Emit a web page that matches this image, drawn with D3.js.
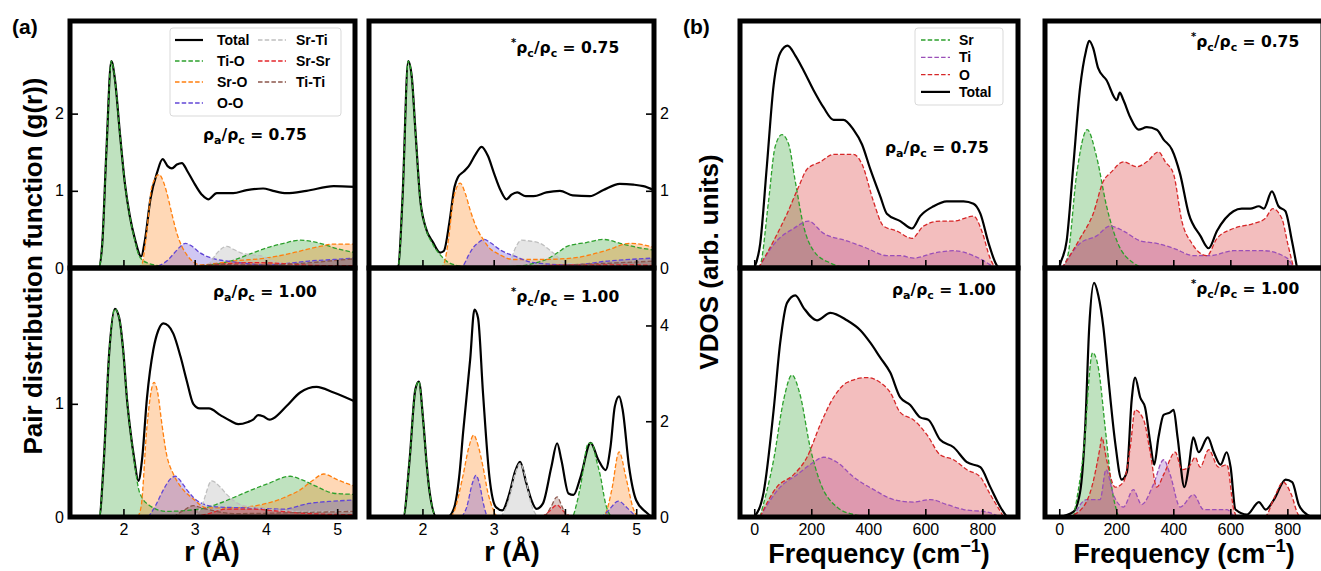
<!DOCTYPE html>
<html>
<head>
<meta charset="utf-8">
<script src="https://cdn.jsdelivr.net/npm/d3@7"></script>
<style>
  body { margin: 0; background: #fff; }
  svg { display: block; }
</style>
</head>
<body>
<svg id="fig" width="1321" height="571"></svg>
<script>
// ---------- (a) pair distribution functions, r in Å ----------
// rho_a/rho_c = 0.75
const a75_total = [[1.6,0],[1.65,0],[1.7,0.28],[1.76,1.5],[1.83,2.68],[1.88,2.45],[1.95,1.75],[2.02,1.1],[2.09,0.67],[2.16,0.38],[2.25,0.15],[2.3,0.35],[2.38,0.9],[2.47,1.23],[2.55,1.41],[2.62,1.32],[2.68,1.29],[2.75,1.34],[2.82,1.36],[2.9,1.25],[2.98,1.12],[3.1,0.95],[3.19,0.89],[3.31,0.97],[3.54,0.97],[3.73,1.01],[3.96,1.03],[4.1,1.0],[4.29,0.97],[4.57,1.0],[4.95,1.06],[5.25,1.05]];
const a75_tiO = [[1.6,0],[1.65,0],[1.7,0.28],[1.76,1.5],[1.83,2.68],[1.88,2.45],[1.95,1.75],[2.02,1.1],[2.09,0.67],[2.16,0.36],[2.23,0.14],[2.35,0.06],[2.5,0.03],[2.7,0.01],[3.0,0.02],[3.3,0.05],[3.54,0.1],[3.8,0.19],[4.01,0.26],[4.25,0.32],[4.48,0.36],[4.76,0.32],[5.0,0.25],[5.25,0.2]];
const a75_srO = [[2.2,0],[2.26,0.05],[2.33,0.5],[2.4,1.06],[2.5,1.21],[2.56,1.12],[2.61,0.97],[2.68,0.7],[2.75,0.45],[2.82,0.28],[2.89,0.17],[2.98,0.08],[3.07,0.04],[3.3,0.06],[3.54,0.09],[4.01,0.13],[4.3,0.18],[4.48,0.22],[4.76,0.28],[4.95,0.31],[5.25,0.31]];
const a75_oO = [[2.4,0],[2.5,0.03],[2.62,0.1],[2.72,0.2],[2.8,0.28],[2.87,0.32],[2.95,0.29],[3.07,0.2],[3.2,0.14],[3.31,0.11],[3.54,0.08],[3.8,0.05],[4.01,0.04],[4.3,0.06],[4.6,0.09],[4.95,0.11],[5.25,0.13]];
const a75_srTi = [[3.1,0],[3.2,0.05],[3.3,0.18],[3.45,0.28],[3.55,0.24],[3.64,0.2],[3.8,0.17],[3.92,0.16],[4.1,0.09],[4.3,0.05],[4.48,0.03],[5.25,0.02]];
const a75_srSr = [[3.0,0],[3.2,0.03],[3.5,0.06],[3.8,0.07],[4.2,0.06],[4.5,0.04],[5.0,0.03],[5.25,0.03]];
const a75_tiTi = [[2.8,0],[3.0,0.02],[3.3,0.05],[3.6,0.04],[4.0,0.04],[4.5,0.06],[5.0,0.1],[5.25,0.12]];

// *rho_c/rho_c = 0.75
const c75_total = [[1.6,0],[1.66,0.02],[1.72,0.9],[1.8,2.68],[1.85,2.48],[1.9,1.8],[1.97,0.88],[2.04,0.54],[2.15,0.33],[2.25,0.2],[2.3,0.22],[2.38,0.6],[2.45,1.05],[2.5,1.18],[2.58,1.25],[2.65,1.32],[2.75,1.48],[2.83,1.57],[2.92,1.45],[3.0,1.24],[3.1,1.0],[3.18,0.89],[3.25,0.95],[3.33,0.98],[3.45,0.93],[3.56,0.93],[3.74,0.98],[3.93,1.0],[4.11,0.94],[4.35,0.93],[4.54,1.01],[4.77,1.09],[4.96,1.08],[5.1,1.06],[5.27,1.0]];
const c75_tiO = [[1.6,0],[1.66,0.02],[1.72,0.9],[1.8,2.68],[1.85,2.48],[1.9,1.8],[1.97,0.88],[2.04,0.54],[2.15,0.3],[2.25,0.17],[2.39,0.06],[2.6,0.02],[3.0,0.01],[3.4,0.03],[3.6,0.07],[3.74,0.11],[3.9,0.2],[4.03,0.28],[4.3,0.33],[4.54,0.37],[4.81,0.31],[5.0,0.27],[5.27,0.23]];
const c75_srO = [[2.25,0],[2.3,0.05],[2.37,0.4],[2.43,0.87],[2.53,1.1],[2.6,0.97],[2.67,0.75],[2.76,0.52],[2.86,0.36],[2.95,0.25],[3.05,0.19],[3.28,0.11],[3.65,0.11],[4.12,0.13],[4.35,0.17],[4.59,0.23],[4.91,0.32],[5.05,0.31],[5.27,0.26]];
const c75_oO = [[2.5,0],[2.57,0.03],[2.65,0.17],[2.71,0.26],[2.8,0.34],[2.87,0.37],[2.95,0.33],[3.1,0.23],[3.33,0.14],[3.5,0.08],[3.65,0.06],[4.1,0.04],[4.6,0.09],[5.27,0.13]];
const c75_srTi = [[3.15,0],[3.22,0.05],[3.3,0.25],[3.39,0.36],[3.5,0.35],[3.65,0.32],[3.75,0.26],[3.84,0.19],[3.95,0.1],[4.05,0.06],[4.5,0.03],[5.27,0.03]];
const c75_srSr = [[3.5,0],[3.7,0.03],[4.0,0.04],[4.5,0.04],[5.0,0.04],[5.27,0.03]];
const c75_tiTi = [[3.0,0],[3.3,0.02],[3.8,0.03],[4.3,0.05],[4.8,0.07],[5.27,0.09]];

// rho_a/rho_c = 1.00
const a100_total = [[1.6,0],[1.66,0],[1.72,0.45],[1.8,1.45],[1.88,1.84],[1.94,1.76],[2.0,1.45],[2.05,1.04],[2.1,0.75],[2.15,0.52],[2.21,0.32],[2.26,0.5],[2.33,1.05],[2.42,1.48],[2.49,1.65],[2.56,1.71],[2.63,1.69],[2.7,1.62],[2.8,1.42],[2.89,1.2],[2.98,1.0],[3.07,0.96],[3.2,0.96],[3.36,0.9],[3.5,0.85],[3.61,0.82],[3.75,0.84],[3.82,0.86],[3.89,0.9],[3.96,0.89],[4.05,0.86],[4.1,0.87],[4.29,0.98],[4.48,1.1],[4.71,1.15],[4.95,1.1],[5.25,1.02]];
const a100_tiO = [[1.6,0],[1.66,0],[1.72,0.45],[1.8,1.45],[1.88,1.84],[1.94,1.76],[2.0,1.45],[2.05,1.04],[2.1,0.75],[2.15,0.5],[2.23,0.21],[2.37,0.1],[2.6,0.05],[3.07,0.07],[3.3,0.11],[3.54,0.17],[3.8,0.24],[4.01,0.29],[4.34,0.36],[4.5,0.33],[4.71,0.27],[4.95,0.21],[5.25,0.2]];
const a100_srO = [[2.2,0],[2.25,0.1],[2.33,0.8],[2.43,1.19],[2.48,1.1],[2.54,0.82],[2.6,0.57],[2.7,0.38],[2.79,0.28],[2.98,0.16],[3.17,0.08],[3.5,0.08],[4.01,0.12],[4.25,0.17],[4.48,0.24],[4.65,0.32],[4.81,0.38],[5.0,0.33],[5.25,0.27]];
const a100_oO = [[2.35,0],[2.45,0.1],[2.56,0.24],[2.65,0.33],[2.73,0.36],[2.8,0.32],[2.89,0.24],[3.07,0.13],[3.3,0.09],[3.75,0.08],[4.25,0.07],[4.6,0.12],[4.95,0.14],[5.25,0.15]];
const a100_srTi = [[3.0,0],[3.1,0.1],[3.24,0.32],[3.35,0.27],[3.45,0.2],[3.64,0.11],[4.01,0.07],[4.48,0.05],[5.25,0.05]];
const a100_srSr = [[3.0,0],[3.2,0.03],[3.45,0.07],[3.8,0.07],[4.2,0.05],[4.6,0.03],[5.25,0.02]];
const a100_tiTi = [[2.7,0],[2.85,0.06],[2.98,0.1],[3.1,0.08],[3.3,0.05],[3.54,0.03],[4.5,0.04],[5.25,0.05]];

// *rho_c/rho_c = 1.00
const c100_total = [[1.6,0],[1.73,0],[1.82,1.2],[1.9,2.66],[1.95,2.83],[2.01,2.03],[2.06,1.1],[2.1,0.53],[2.2,0],[2.35,0],[2.44,0.17],[2.52,0.9],[2.57,1.75],[2.67,3.29],[2.73,4.33],[2.78,4.16],[2.85,2.59],[2.94,0.84],[3.03,0.21],[3.12,0.14],[3.22,0.49],[3.3,0.95],[3.37,1.15],[3.46,0.7],[3.53,0.35],[3.6,0.17],[3.69,0.28],[3.81,1.05],[3.89,1.54],[3.95,1.19],[4.05,0.49],[4.12,0.46],[4.22,0.84],[4.36,1.55],[4.47,1.19],[4.57,0.98],[4.64,1.47],[4.7,2.31],[4.76,2.52],[4.81,2.24],[4.9,1.05],[5.0,0.35],[5.14,0.1],[5.22,0]];
const c100_tiO = [[1.6,0],[1.73,0],[1.82,1.2],[1.9,2.66],[1.95,2.83],[2.01,2.03],[2.06,1.1],[2.1,0.53],[2.2,0],[4.1,0],[4.16,0.25],[4.22,0.66],[4.33,1.54],[4.38,1.54],[4.44,1.2],[4.5,0.84],[4.57,0.28],[4.65,0]];
const c100_srO = [[2.4,0],[2.44,0.1],[2.57,0.87],[2.65,1.45],[2.72,1.71],[2.78,1.5],[2.85,1.05],[2.92,0.5],[2.99,0.17],[3.06,0],[4.54,0],[4.6,0.2],[4.66,0.59],[4.76,1.36],[4.86,0.8],[4.96,0.17],[5.02,0]];
const c100_oO = [[2.55,0],[2.62,0.2],[2.7,0.7],[2.75,0.87],[2.8,0.7],[2.86,0.25],[2.92,0],[4.5,0],[4.6,0.12],[4.75,0.33],[4.88,0.18],[5.0,0]];
const c100_srTi = [[3.1,0],[3.2,0.3],[3.3,0.9],[3.37,1.12],[3.45,0.8],[3.52,0.3],[3.62,0]];
const c100_srSr = [[3.68,0],[3.78,0.12],[3.89,0.25],[3.98,0.12],[4.08,0]];
const c100_tiTi = [[3.72,0],[3.8,0.2],[3.89,0.42],[3.95,0.25],[4.02,0]];

// ---------- (b) VDOS, frequency in cm^-1, arbitrary units ----------
const b75_sr = [[15,0],[21,0.01],[50,0.27],[73,0.49],[97,0.54],[121,0.5],[144,0.35],[173,0.17],[208,0.07],[267,0.02],[325,0]];
const b75_ti = [[15,0],[79,0.11],[138,0.16],[190,0.19],[243,0.14],[325,0.11],[395,0.08],[465,0.05],[512,0.05],[559,0.04],[629,0.06],[699,0.07],[769,0.05],[845,0]];
const b75_o = [[15,0],[68,0.11],[115,0.22],[156,0.33],[185,0.4],[232,0.43],[278,0.46],[348,0.46],[378,0.42],[418,0.27],[453,0.17],[500,0.15],[553,0.12],[594,0.17],[652,0.19],[699,0.19],[769,0.21],[798,0.15],[827,0.04],[845,0]];
const b75_total = [[0,0],[21,0.1],[44,0.41],[68,0.74],[91,0.87],[117,0.9],[144,0.86],[173,0.8],[208,0.72],[243,0.65],[278,0.6],[313,0.6],[348,0.56],[378,0.5],[407,0.4],[442,0.29],[465,0.22],[512,0.19],[553,0.16],[582,0.21],[629,0.25],[675,0.27],[734,0.27],[769,0.26],[793,0.22],[822,0.1],[851,0.01],[860,0]];

const d75_sr = [[10,0],[30,0.05],[61,0.38],[98,0.56],[131,0.45],[166,0.25],[202,0.11],[260,0.02],[300,0]];
const d75_ti = [[10,0],[73,0.1],[131,0.13],[178,0.17],[225,0.15],[284,0.11],[342,0.1],[401,0.08],[471,0.05],[529,0.05],[611,0.07],[717,0.07],[799,0.04],[822,0]];
const d75_o = [[10,0],[73,0.12],[119,0.22],[154,0.35],[184,0.39],[225,0.43],[272,0.41],[307,0.43],[348,0.47],[372,0.43],[401,0.38],[430,0.19],[465,0.1],[518,0.05],[553,0.12],[611,0.16],[681,0.18],[722,0.2],[749,0.24],[781,0.2],[801,0.1],[822,0]];
const d75_total = [[0,0],[2,0.01],[26,0.11],[49,0.41],[73,0.73],[94,0.88],[105,0.92],[119,0.89],[136,0.81],[166,0.76],[202,0.68],[212,0.71],[225,0.68],[249,0.61],[278,0.56],[307,0.57],[342,0.56],[366,0.52],[395,0.48],[424,0.38],[454,0.22],[495,0.13],[524,0.08],[553,0.15],[611,0.23],[640,0.24],[670,0.24],[700,0.25],[717,0.24],[746,0.31],[769,0.25],[793,0.23],[816,0.11],[834,0]];

const b100_sr = [[20,0],[68,0.23],[103,0.47],[132,0.57],[161,0.49],[196,0.28],[231,0.14],[290,0.04],[349,0.01],[420,0]];
const b100_ti = [[20,0],[91,0.12],[150,0.17],[208,0.22],[243,0.24],[290,0.22],[349,0.16],[419,0.11],[489,0.07],[559,0.06],[617,0.07],[676,0.05],[734,0.03],[816,0.02],[863,0]];
const b100_o = [[20,0],[79,0.12],[138,0.17],[185,0.24],[231,0.37],[278,0.48],[325,0.54],[395,0.56],[442,0.54],[477,0.5],[512,0.42],[559,0.39],[606,0.33],[652,0.25],[699,0.23],[746,0.19],[793,0.16],[828,0.09],[875,0]];
const b100_total = [[0,0],[33,0.1],[68,0.43],[91,0.7],[115,0.86],[144,0.89],[173,0.84],[220,0.79],[267,0.82],[325,0.79],[372,0.75],[407,0.7],[442,0.64],[477,0.58],[512,0.48],[547,0.45],[582,0.4],[611,0.39],[652,0.31],[699,0.28],[746,0.22],[793,0.2],[828,0.12],[863,0.04],[886,0]];

const d100_sr = [[50,0],[84,0.25],[117,0.66],[137,0.6],[161,0.36],[184,0.12],[208,0]];
const d100_ti = [[50,0],[96,0.07],[143,0.07],[164,0.19],[190,0.09],[225,0.04],[260,0.11],[289,0.05],[330,0.13],[366,0.23],[389,0.17],[424,0.04],[471,0.09],[506,0.03],[588,0.03],[612,0]];
const d100_o = [[30,0],[84,0.04],[114,0.12],[143,0.28],[149,0.32],[166,0.23],[196,0.12],[225,0.14],[249,0.28],[266,0.43],[296,0.39],[319,0.26],[342,0.12],[366,0.17],[407,0.26],[430,0.19],[454,0.2],[477,0.24],[494,0.2],[524,0.27],[559,0.2],[588,0.21],[612,0.03],[625,0],[720,0],[755,0.08],[785,0.14],[814,0.09],[838,0.01],[850,0]];
const d100_total = [[0,0],[49,0.02],[73,0.1],[91,0.36],[105,0.76],[122,0.94],[137,0.89],[155,0.76],[172,0.56],[196,0.3],[219,0.15],[237,0.18],[254,0.47],[266,0.56],[284,0.48],[301,0.44],[319,0.3],[333,0.21],[348,0.32],[366,0.41],[389,0.42],[401,0.43],[415,0.32],[439,0.12],[454,0.2],[470,0.32],[489,0.26],[521,0.32],[542,0.26],[566,0.21],[587,0.26],[601,0.2],[618,0.03],[659,0.01],[700,0.06],[724,0.03],[753,0.07],[794,0.15],[817,0.14],[840,0.05],[869,0.01],[890,0]];

// ---------- names, colours, ticks ----------
const pdfNames  = ['Total', 'Ti-O', 'Sr-O', 'O-O', 'Sr-Ti', 'Sr-Sr', 'Ti-Ti'];
const pdfColors = ['#000000', '#2ca02c', '#ff7f0e', '#6247d6', '#bfbfbf', '#e3262b', '#8c564b'];
const vdosNames  = ['Sr', 'Ti', 'O', 'Total'];
const vdosColors = ['#2ca02c', '#9a4fb8', '#d62728', '#000000'];

const rTicks = [2, 3, 4, 5];
const fTicks = [0, 200, 400, 600, 800];

const tickFont = '"Liberation Sans", Arial, sans-serif';
const noteFont = '"DejaVu Sans", sans-serif';

const svg = d3.select('#fig');

function seriesOf(names, colors, arrays) {
  return names.map((n, i) => ({ name: n, color: colors[i], data: arrays[i], solid: n === 'Total' }));
}

const rowTop = 21, rowMid = 268, rowBot = 517;

const panels = [
  { id: 'a75', x: [70, 355], y: [rowMid, rowTop], xd: [1.25, 5.25], yd: [0, 3.2], xt: rTicks, xlab: false,
    yt: [0, 1, 2], yside: 'left',
    series: seriesOf(pdfNames, pdfColors, [a75_total, a75_tiO, a75_srO, a75_oO, a75_srTi, a75_srSr, a75_tiTi]),
    note: { x: 203, y: 140, star: false, sub: 'a', val: '0.75' } },
  { id: 'c75', x: [369, 654], y: [rowMid, rowTop], xd: [1.25, 5.25], yd: [0, 3.2], xt: rTicks, xlab: false,
    yt: [0, 1, 2], yside: 'right',
    series: seriesOf(pdfNames, pdfColors, [c75_total, c75_tiO, c75_srO, c75_oO, c75_srTi, c75_srSr, c75_tiTi]),
    note: { x: 511, y: 53, star: true, sub: 'c', val: '0.75' } },
  { id: 'a100', x: [70, 355], y: [rowBot, rowMid], xd: [1.25, 5.25], yd: [0, 2.2], xt: rTicks, xlab: true,
    yt: [0, 1], yside: 'left',
    series: seriesOf(pdfNames, pdfColors, [a100_total, a100_tiO, a100_srO, a100_oO, a100_srTi, a100_srSr, a100_tiTi]),
    note: { x: 213, y: 297, star: false, sub: 'a', val: '1.00' } },
  { id: 'c100', x: [369, 654], y: [rowBot, rowMid], xd: [1.25, 5.25], yd: [0, 5.2], xt: rTicks, xlab: true,
    yt: [0, 2, 4], yside: 'right',
    series: seriesOf(pdfNames, pdfColors, [c100_total, c100_tiO, c100_srO, c100_oO, c100_srTi, c100_srSr, c100_tiTi]),
    note: { x: 511, y: 302, star: true, sub: 'c', val: '1.00' } },
  { id: 'b75', x: [740, 1018], y: [rowMid, rowTop], xd: [-50, 925], yd: [0, 1], xt: fTicks, xlab: false,
    yt: null,
    series: seriesOf(vdosNames, vdosColors, [b75_sr, b75_ti, b75_o, b75_total]),
    note: { x: 885, y: 153, star: false, sub: 'a', val: '0.75' } },
  { id: 'd75', x: [1045, 1323], y: [rowMid, rowTop], xd: [-50, 925], yd: [0, 1], xt: fTicks, xlab: false,
    yt: null,
    series: seriesOf(vdosNames, vdosColors, [d75_sr, d75_ti, d75_o, d75_total]),
    note: { x: 1191, y: 47, star: true, sub: 'c', val: '0.75' } },
  { id: 'b100', x: [740, 1018], y: [rowBot, rowMid], xd: [-50, 925], yd: [0, 1], xt: fTicks, xlab: true,
    yt: null,
    series: seriesOf(vdosNames, vdosColors, [b100_sr, b100_ti, b100_o, b100_total]),
    note: { x: 892, y: 295, star: false, sub: 'a', val: '1.00' } },
  { id: 'd100', x: [1045, 1323], y: [rowBot, rowMid], xd: [-50, 925], yd: [0, 1], xt: fTicks, xlab: true,
    yt: null,
    series: seriesOf(vdosNames, vdosColors, [d100_sr, d100_ti, d100_o, d100_total]),
    note: { x: 1191, y: 294, star: true, sub: 'c', val: '1.00' } }
];

function styleAxis(g) {
  g.select('.domain').remove();
  g.selectAll('.tick line').attr('stroke', '#000').attr('stroke-width', 1.6);
  g.selectAll('.tick text').attr('fill', '#000')
    .style('font-family', tickFont).style('font-size', '16px');
}

function drawPanel(p) {
  const x = d3.scaleLinear().domain(p.xd).range(p.x);
  const y = d3.scaleLinear().domain(p.yd).range(p.y);
  const g = svg.append('g');

  svg.append('clipPath').attr('id', 'clip-' + p.id).append('rect')
    .attr('x', p.x[0]).attr('y', p.y[1])
    .attr('width', p.x[1] - p.x[0]).attr('height', p.y[0] - p.y[1]);
  const plot = g.append('g').attr('clip-path', `url(#clip-${p.id})`);

  const area = d3.area().curve(d3.curveMonotoneX)
    .x(d => x(d[0])).y0(y(0)).y1(d => y(d[1]));
  const line = d3.line().curve(d3.curveMonotoneX)
    .x(d => x(d[0])).y(d => y(d[1]));

  // fills first, then the total, then the dashed partials on top
  p.series.filter(s => !s.solid).forEach(s => {
    plot.append('path').datum(s.data).attr('d', area)
      .attr('fill', s.color).attr('fill-opacity', s.name === 'Sr-Ti' ? 0.4 : 0.3);
  });
  p.series.filter(s => s.solid).forEach(s => {
    plot.append('path').datum(s.data).attr('d', line)
      .attr('fill', 'none').attr('stroke', '#000').attr('stroke-width', 2.2);
  });
  p.series.filter(s => !s.solid).forEach(s => {
    plot.append('path').datum(s.data).attr('d', line)
      .attr('fill', 'none').attr('stroke', s.color).attr('stroke-width', 1.3)
      .attr('stroke-dasharray', '4.5,2.2');
  });

  // ticks point inward
  const xa = g.append('g').attr('transform', `translate(0,${p.y[0]})`)
    .call(d3.axisBottom(x).tickValues(p.xt).tickSizeInner(-8).tickSizeOuter(0)
      .tickPadding(7).tickFormat(p.xlab ? d3.format('d') : ''));
  styleAxis(xa);

  if (p.yt) {
    const ax = p.yside === 'left' ? d3.axisLeft(y) : d3.axisRight(y);
    const ya = g.append('g').attr('transform', `translate(${p.yside === 'left' ? p.x[0] : p.x[1]},0)`)
      .call(ax.tickValues(p.yt).tickSizeInner(-8).tickSizeOuter(0).tickPadding(6).tickFormat(d3.format('d')));
    styleAxis(ya);
  }

  g.append('rect')
    .attr('x', p.x[0]).attr('y', p.y[1])
    .attr('width', p.x[1] - p.x[0]).attr('height', p.y[0] - p.y[1])
    .attr('fill', 'none').attr('stroke', '#000').attr('stroke-width', 5);

  // density-ratio annotation
  const n = p.note;
  const t = g.append('text').attr('x', n.x).attr('y', n.y)
    .style('font-family', noteFont).style('font-weight', 'bold').style('font-size', '15.5px');
  if (n.star) {
    t.append('tspan').attr('font-size', '10px').attr('dy', -7).text('*');
    t.append('tspan').attr('dy', 7).text('ρ');
  } else {
    t.append('tspan').text('ρ');
  }
  t.append('tspan').attr('font-size', '11px').attr('dy', 4).text(n.sub);
  t.append('tspan').attr('dy', -4).text('/ρ');
  t.append('tspan').attr('font-size', '11px').attr('dy', 4).text('c');
  t.append('tspan').attr('dy', -4).text(' = ' + n.val);
}

panels.forEach(drawPanel);

// ---------- legends ----------
function drawLegend(box, items, cols) {
  const g = svg.append('g');
  g.append('rect').attr('x', box.x).attr('y', box.y).attr('width', box.w).attr('height', box.h)
    .attr('rx', 3).attr('fill', '#fff').attr('fill-opacity', 0.85)
    .attr('stroke', '#d9d9d9').attr('stroke-width', 1);
  items.forEach((s, i) => {
    const c = cols.find(c => i >= c.from && i < c.to);
    const yy = box.y + box.row0 + (i - c.from) * box.dy;
    g.append('line').attr('x1', c.lx).attr('x2', c.lx + box.len).attr('y1', yy).attr('y2', yy)
      .attr('stroke', s.color).attr('stroke-width', s.solid ? 2.2 : 1.3)
      .attr('stroke-dasharray', s.solid ? null : '4.5,2.2');
    g.append('text').attr('x', c.tx).attr('y', yy).attr('dy', '0.36em')
      .style('font-family', tickFont).style('font-weight', 'bold').style('font-size', '14px')
      .text(s.name);
  });
}

drawLegend({ x: 170, y: 28, w: 171, h: 88, row0: 12, dy: 21, len: 28 },
  seriesOf(pdfNames, pdfColors, []),
  [{ from: 0, to: 4, lx: 175, tx: 217 }, { from: 4, to: 7, lx: 258, tx: 296 }]);

drawLegend({ x: 915, y: 28, w: 88, h: 77, row0: 12, dy: 17.3, len: 29 },
  seriesOf(vdosNames, vdosColors, []),
  [{ from: 0, to: 4, lx: 921, tx: 959 }]);

// ---------- axis titles and panel letters ----------
function label(txt, x, y, size, rotate, anchor) {
  const t = svg.append('text').attr('x', x).attr('y', y)
    .attr('text-anchor', anchor || 'middle')
    .style('font-family', tickFont).style('font-weight', 'bold').style('font-size', size + 'px');
  if (rotate) t.attr('transform', `rotate(-90,${x},${y})`).attr('dominant-baseline', 'central');
  t.text(txt);
  return t;
}

label('Pair distribution function (g(r))', 33, 266, 26, true);
label('VDOS (arb. units)', 709, 262, 26, true);
label('r (Å)', 212, 561, 27);
label('r (Å)', 512, 561, 27);

function freqLabel(cx) {
  const t = svg.append('text').attr('x', cx).attr('y', 563).attr('text-anchor', 'middle')
    .style('font-family', tickFont).style('font-weight', 'bold').style('font-size', '27px');
  t.append('tspan').text('Frequency (cm');
  t.append('tspan').attr('dy', -11).attr('font-size', '18px').text('−1');
  t.append('tspan').attr('dy', 11).text(')');
}
freqLabel(879);
freqLabel(1184);

label('(a)', 12, 34, 21, false, 'start');
label('(b)', 683, 34, 21, false, 'start');
</script>
</body>
</html>
